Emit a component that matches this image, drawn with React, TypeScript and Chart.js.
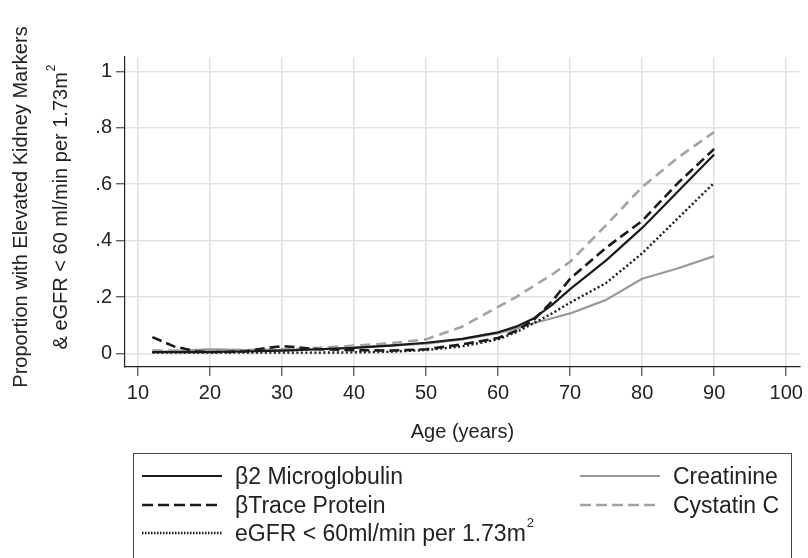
import React, { useEffect, useRef } from "react";
import { Chart, registerables } from "chart.js";

Chart.register(...registerables);

// ---------- data ----------
const ages = [12, 15, 18, 20, 22, 25, 28, 30, 32, 35, 40, 45, 50, 55, 60, 62.5, 65, 67.5, 70, 75, 80, 85, 90];

const b2Microglobulin = [0.005, 0.005, 0.005, 0.005, 0.006, 0.007, 0.009, 0.01, 0.012, 0.015, 0.02, 0.028, 0.038, 0.052, 0.075, 0.095, 0.125, 0.172, 0.228, 0.33, 0.445, 0.575, 0.705];
const betaTrace = [0.058, 0.025, 0.008, 0.005, 0.005, 0.008, 0.02, 0.026, 0.022, 0.015, 0.012, 0.01, 0.015, 0.032, 0.055, 0.08, 0.12, 0.185, 0.265, 0.375, 0.47, 0.605, 0.725];
const egfrBelow60 = [0.003, 0.003, 0.003, 0.003, 0.003, 0.003, 0.003, 0.003, 0.003, 0.003, 0.004, 0.006, 0.012, 0.025, 0.05, 0.075, 0.108, 0.142, 0.18, 0.25, 0.355, 0.48, 0.605];
const creatinine = [0.005, 0.008, 0.013, 0.015, 0.014, 0.012, 0.012, 0.012, 0.013, 0.015, 0.022, 0.028, 0.035, 0.05, 0.072, 0.088, 0.108, 0.125, 0.142, 0.19, 0.265, 0.302, 0.345];
const cystatinC = [0.01, 0.01, 0.011, 0.012, 0.012, 0.012, 0.013, 0.015, 0.016, 0.02, 0.028, 0.036, 0.05, 0.095, 0.165, 0.2, 0.24, 0.28, 0.325, 0.455, 0.59, 0.695, 0.785];

const seriesLabels = [
  "β2 Microglobulin",
  "βTrace Protein",
  "eGFR < 60ml/min per 1.73m²",
  "Creatinine",
  "Cystatin C",
];

const xTicks = [10, 20, 30, 40, 50, 60, 70, 80, 90, 100];
const yTicks = [0, 0.2, 0.4, 0.6, 0.8, 1];
const yTickLabels = ["0", ".2", ".4", ".6", ".8", "1"];

const xTitle = "Age (years)";
const yTitle = ["Proportion with Elevated Kidney Markers", "& eGFR < 60 ml/min per 1.73m²"];

// ---------- styling ----------
const FONT = '"Liberation Sans", Arial, Helvetica, sans-serif';
const TEXT = "#222222";
const W = 808;
const H = 558;

function drawWithSup(
  ctx: CanvasRenderingContext2D,
  label: string,
  x: number,
  y: number,
  size: number,
  align: "left" | "center"
) {
  const idx = label.indexOf("²");
  const main = idx >= 0 ? label.slice(0, idx) : label;
  const sup = idx >= 0 ? "2" : "";
  const supSize = Math.round(size * 0.58);
  ctx.font = `${size}px ${FONT}`;
  const w1 = ctx.measureText(main).width;
  ctx.font = `${supSize}px ${FONT}`;
  const w2 = sup ? ctx.measureText(sup).width + 1 : 0;
  const start = align === "center" ? x - (w1 + w2) / 2 : x;
  ctx.textAlign = "left";
  ctx.textBaseline = "alphabetic";
  ctx.font = `${size}px ${FONT}`;
  ctx.fillText(main, start, y);
  if (sup) {
    ctx.font = `${supSize}px ${FONT}`;
    ctx.fillText(sup, start + w1 + 1, y - size * 0.62);
  }
}

const textPlugin = {
  id: "customTexts",
  afterDraw(chart: any) {
    const ctx: CanvasRenderingContext2D = chart.ctx;
    const area = chart.chartArea;
    ctx.save();
    ctx.fillStyle = TEXT;

    // y-axis title (rotated)
    ctx.save();
    ctx.translate(0, (area.top + area.bottom) / 2 - 5);
    ctx.rotate(-Math.PI / 2);
    drawWithSup(ctx, yTitle[0], 0, 27, 20, "center");
    drawWithSup(ctx, yTitle[1], 0, 67, 20, "center");
    ctx.restore();

    // x-axis title
    drawWithSup(ctx, xTitle, (area.left + area.right) / 2, 438, 20, "center");

    // legend box
    ctx.strokeStyle = "#444444";
    ctx.lineWidth = 1;
    ctx.strokeRect(133.5, 453.5, 658, 120);

    const ds = chart.data.datasets;
    const slots = [
      { i: 0, lx: 142, tx: 235, y: 476 },
      { i: 1, lx: 142, tx: 235, y: 505 },
      { i: 2, lx: 142, tx: 235, y: 533 },
      { i: 3, lx: 580, tx: 673, y: 476 },
      { i: 4, lx: 580, tx: 673, y: 505 },
    ];
    slots.forEach((s) => {
      const d = ds[s.i];
      ctx.save();
      ctx.strokeStyle = d.borderColor;
      ctx.lineWidth = d.borderWidth;
      ctx.setLineDash(d.legendDash || d.borderDash || []);
      ctx.beginPath();
      ctx.moveTo(s.lx, s.y);
      ctx.lineTo(s.lx + 80, s.y);
      ctx.stroke();
      ctx.restore();
      ctx.fillStyle = TEXT;
      drawWithSup(ctx, d.label, s.tx, s.y + 8, 23, "left");
    });

    ctx.restore();
  },
};

function toPoints(values: number[]) {
  return ages.map((a, i) => ({ x: a, y: values[i] }));
}

export default function App() {
  const ref = useRef<HTMLCanvasElement | null>(null);

  useEffect(() => {
    if (!ref.current) return;
    const chart = new Chart(ref.current, {
      type: "line",
      data: {
        datasets: [
          {
            label: seriesLabels[0],
            data: toPoints(b2Microglobulin),
            borderColor: "#1a1a1a",
            borderWidth: 2.2,
            borderDash: [],
          },
          {
            label: seriesLabels[1],
            data: toPoints(betaTrace),
            borderColor: "#1a1a1a",
            borderWidth: 2.6,
            borderDash: [10, 5],
            legendDash: [11, 5],
          },
          {
            label: seriesLabels[2],
            data: toPoints(egfrBelow60),
            borderColor: "#1a1a1a",
            borderWidth: 2.4,
            borderDash: [2, 2.5],
            legendDash: [1.5, 1.5],
          },
          {
            label: seriesLabels[3],
            data: toPoints(creatinine),
            borderColor: "#999999",
            borderWidth: 2.2,
            borderDash: [],
          },
          {
            label: seriesLabels[4],
            data: toPoints(cystatinC),
            borderColor: "#a3a3a3",
            borderWidth: 2.6,
            borderDash: [10, 6],
            legendDash: [11, 5],
          },
        ] as any,
      },
      options: {
        responsive: false,
        animation: false,
        layout: { padding: { left: 0, top: 57, right: 6, bottom: 111 } },
        elements: {
          point: { radius: 0, hoverRadius: 0 },
          line: { tension: 0, fill: false, borderJoinStyle: "round" },
        },
        plugins: {
          legend: { display: false },
          tooltip: { enabled: false },
          title: { display: false },
        },
        scales: {
          x: {
            type: "linear",
            position: "bottom",
            min: 8.2,
            max: 101.9,
            afterBuildTicks: (scale: any) => {
              scale.ticks = xTicks.map((v) => ({ value: v }));
            },
            afterFit: (scale: any) => {
              scale.height = 80;
            },
            grid: {
              color: "#e2e2e2",
              lineWidth: 1.6,
              drawTicks: true,
              tickLength: 9,
              tickColor: "#222222",
              tickWidth: 1,
            },
            border: { display: true, color: "#222222", width: 1.2 },
            ticks: {
              padding: 5,
              color: TEXT,
              font: { family: FONT, size: 20 },
              maxRotation: 0,
              autoSkip: false,
              callback: (v: any) => String(v),
            },
          },
          y: {
            type: "linear",
            position: "left",
            min: -0.048,
            max: 1.051,
            afterBuildTicks: (scale: any) => {
              scale.ticks = yTicks.map((v) => ({ value: v }));
            },
            afterFit: (scale: any) => {
              scale.width = 125;
            },
            grid: {
              color: "#e2e2e2",
              lineWidth: 1.6,
              drawTicks: true,
              tickLength: 9,
              tickColor: "#222222",
              tickWidth: 1,
            },
            border: { display: true, color: "#222222", width: 1.2 },
            ticks: {
              padding: 4,
              color: TEXT,
              font: { family: FONT, size: 20 },
              autoSkip: false,
              callback: (v: any) => {
                const i = yTicks.findIndex((t) => Math.abs(t - v) < 1e-9);
                return i >= 0 ? yTickLabels[i] : "";
              },
            },
          },
        },
      } as any,
      plugins: [textPlugin],
    });
    return () => chart.destroy();
  }, []);

  return (
    <div style={{ position: "fixed", left: 0, top: 0, width: W, height: H, background: "#fff" }}>
      <canvas ref={ref} width={W} height={H} style={{ width: W, height: H, display: "block" }} />
    </div>
  );
}
